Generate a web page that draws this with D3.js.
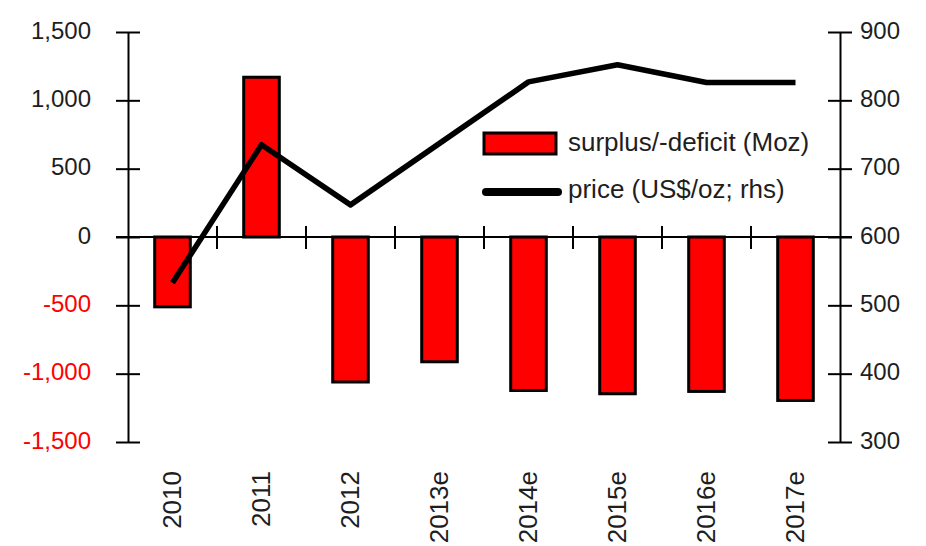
<!DOCTYPE html>
<html>
<head>
<meta charset="utf-8">
<script src="https://cdn.jsdelivr.net/npm/d3@7"></script>
<style>
  body { margin: 0; background: #fff; }
  text { font-family: "Liberation Sans", Arial, sans-serif; fill: #1e1e1e; }
</style>
</head>
<body>
<script>
var w = 926;
var h = 546;

// data
var years = ["2010", "2011", "2012", "2013e", "2014e", "2015e", "2016e", "2017e"];
var balance = [-511, 1169, -1061, -913, -1123, -1147, -1130, -1196];   // Moz
var price = [533, 735, 647, 737, 827, 852, 826, 826];                  // US$/oz
var leftTicks = [-1500, -1000, -500, 0, 500, 1000, 1500];
var rightTicks = [300, 400, 500, 600, 700, 800, 900];

// plot edges (don't call it "top", window.top is read-only)
var plotL = 128, plotR = 840, plotT = 32, plotB = 442;

var svg = d3.select("body")
            .append("svg")
              .attr("width", w)
              .attr("height", h);

var x = d3.scaleBand()
          .domain(years)
          .range([plotL, plotR])
          .padding(0);

var yL = d3.scaleLinear()
           .domain([-1500, 1500])
           .range([plotB, plotT]);

var yR = d3.scaleLinear()
           .domain([300, 900])
           .range([plotB, plotT]);

var fmt = d3.formatLocale({decimal: ".", thousands: ",", grouping: [3], currency: ["$", ""], minus: "-"}).format(",");

// bars
var barW = x.bandwidth() * 0.4;
svg.selectAll(".bar")
    .data(years)
    .enter()
    .append("rect")
      .attr("class", "bar")
      .attr("x", function(d) { return x(d) + (x.bandwidth() - barW) / 2; })
      .attr("width", barW)
      .attr("y", function(d, i) { return yL(Math.max(0, balance[i])); })
      .attr("height", function(d, i) { return Math.abs(yL(balance[i]) - yL(0)); })
      .style("fill", "#ff0000")
      .style("stroke", "#000")
      .style("stroke-width", 3);

// left axis
var gL = svg.append("g")
            .attr("transform", "translate(" + plotL + ",0)")
            .call(d3.axisLeft(yL).tickValues(leftTicks).tickFormat(fmt).tickSizeInner(12).tickSizeOuter(0).tickPadding(25));
gL.selectAll(".tick line").attr("x1", 12).attr("x2", -12);
gL.selectAll(".tick text")
    .style("font-size", "24px")
    .attr("dy", "0.25em")
    .style("fill", function(d) { return d < 0 ? "#ff0000" : "#1e1e1e"; });

// right axis
var gR = svg.append("g")
            .attr("transform", "translate(" + plotR + ",0)")
            .call(d3.axisRight(yR).tickValues(rightTicks).tickSizeInner(12).tickSizeOuter(0).tickPadding(8));
gR.selectAll(".tick line").attr("x1", -12).attr("x2", 12);
gR.selectAll(".tick text")
    .style("font-size", "24px")
    .attr("dy", "0.25em");

svg.selectAll(".domain, .tick line")
    .style("stroke", "#000")
    .style("stroke-width", 2);

// zero line with crossing ticks between categories
svg.append("line")
    .attr("x1", plotL - 12)
    .attr("x2", plotR + 12)
    .attr("y1", yL(0))
    .attr("y2", yL(0))
    .style("stroke", "#000")
    .style("stroke-width", 2);

svg.selectAll(".xtick")
    .data(years.slice(1))
    .enter()
    .append("line")
      .attr("class", "xtick")
      .attr("x1", function(d) { return x(d); })
      .attr("x2", function(d) { return x(d); })
      .attr("y1", yL(0) - 11)
      .attr("y2", yL(0) + 12)
      .style("stroke", "#000")
      .style("stroke-width", 2);

// category labels
var gX = svg.append("g")
            .attr("transform", "translate(0," + plotB + ")")
            .call(d3.axisBottom(x).tickSize(0));
gX.select(".domain").remove();
gX.selectAll(".tick text")
    .style("font-size", "26px")
    .attr("transform", "rotate(-90)")
    .attr("text-anchor", "end")
    .attr("x", -29)
    .attr("y", 0)
    .attr("dy", "0.33em");

// price line
var line = d3.line()
             .x(function(d, i) { return x(years[i]) + x.bandwidth() / 2; })
             .y(function(d) { return yR(d); });

svg.append("path")
    .datum(price)
    .attr("d", line)
    .style("fill", "none")
    .style("stroke", "#000")
    .style("stroke-width", 5.5)
    .style("stroke-linejoin", "round");

// legend
var lg = svg.append("g").attr("transform", "translate(484,133)");
lg.append("rect")
    .attr("width", 72)
    .attr("height", 21)
    .style("fill", "#ff0000")
    .style("stroke", "#000")
    .style("stroke-width", 3);
lg.append("text")
    .attr("x", 84)
    .attr("y", 18)
    .style("font-size", "26px")
    .text("surplus/-deficit (Moz)");
lg.append("line")
    .attr("x1", 2)
    .attr("x2", 74)
    .attr("y1", 59)
    .attr("y2", 59)
    .style("stroke", "#000")
    .style("stroke-width", 8)
    .style("stroke-linecap", "round");
lg.append("text")
    .attr("x", 84)
    .attr("y", 65)
    .style("font-size", "26px")
    .text("price (US$/oz; rhs)");
</script>
</body>
</html>
